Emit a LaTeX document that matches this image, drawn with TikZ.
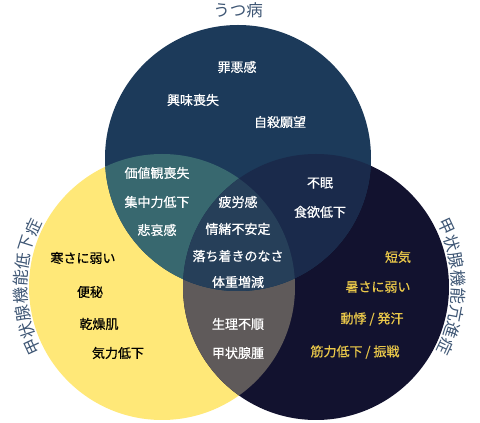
\documentclass[tikz,border=0pt]{standalone}
\usepackage{fontspec}
\setmainfont{Noto Sans CJK JP}
\newfontfamily\bodyfont{Noto Sans CJK JP}[FakeBold=0.6]
\usetikzlibrary{calc}
\definecolor{topc}{HTML}{1C3A5A}
\definecolor{yelc}{HTML}{FFE878}
\definecolor{navc}{HTML}{12122F}
\definecolor{tealc}{HTML}{38686F}
\definecolor{trc}{HTML}{1A2A4B}
\definecolor{grayc}{HTML}{5F5A5A}
\definecolor{tric}{HTML}{263F59}
\definecolor{labc}{HTML}{3E5674}
\definecolor{goldc}{HTML}{EAC84A}
\begin{document}
\begin{tikzpicture}[x=1pt,y=1pt,
  wt/.style={font=\bodyfont\fontsize{13}{13}\selectfont, text=white, inner sep=0pt},
  bt/.style={font=\bodyfont\fontsize{13}{13}\selectfont, text=black, inner sep=0pt},
  gt/.style={font=\bodyfont\fontsize{13}{13}\selectfont, text=goldc, inner sep=0pt},
  ttl/.style={font=\fontsize{16.5}{16.5}\selectfont, text=labc, inner sep=0pt}]
\useasboundingbox (0,0) rectangle (480,423);
\coordinate (T) at (238,265);
\coordinate (L) at (162,136);
\coordinate (R) at (316,136);
\def\rr{133pt}
% base circles
\fill[yelc] (L) circle (\rr);
\fill[navc] (R) circle (\rr);
\begin{scope}
  \clip (L) circle (\rr);
  \fill[grayc] (R) circle (\rr);
\end{scope}
\fill[topc] (T) circle (\rr);
\begin{scope}
  \clip (T) circle (\rr);
  \fill[tealc] (L) circle (\rr);
  \fill[trc] (R) circle (\rr);
  \clip (L) circle (\rr);
  \fill[tric] (R) circle (\rr);
\end{scope}
% titles
\node[ttl] (t1) at (238,413) {うつ病};
\foreach \ch [count=\i] in {甲,状,腺,機,能,低,下,症} {
  \pgfmathsetmacro{\ang}{180+7.1*(4.5-\i)}
  \node[ttl, rotate=\ang-90] (l\i) at ($(L)+(\ang:142pt)$) {\ch};
}
\foreach \ch [count=\i] in {甲,状,腺,機,能,亢,進,症} {
  \pgfmathsetmacro{\ang}{7.1*(4.5-\i)}
  \node[ttl, rotate=\ang-90] (r\i) at ($(R)+(\ang:143pt)$) {\ch};
}
% top only
\node[wt] (a1) at (237,356) {罪悪感};
\node[wt] (a2) at (193,323) {興味喪失};
\node[wt] (a3) at (280,301) {自殺願望};
% top & left
\node[wt] (b1) at (157,250) {価値観喪失};
\node[wt] (b2) at (157,221) {集中力低下};
\node[wt] (b3) at (157,193) {悲哀感};
% center
\node[wt] (c1) at (238,221) {疲労感};
\node[wt] (c2) at (238,194) {情緒不安定};
\node[wt] (c3) at (238,167) {落ち着きのなさ};
\node[wt] (c4) at (238,141) {体重増減};
% top & right
\node[wt] (d1) at (320,240) {不眠};
\node[wt] (d2) at (320,211) {食欲低下};
% left & right
\node[wt] (e1) at (238,99) {生理不順};
\node[wt] (e2) at (238,70) {甲状腺腫};
% left only
\node[bt] (f1) at (83,165) {寒さに弱い};
\node[bt] (f2) at (90,131) {便秘};
\node[bt] (f3) at (99,99) {乾燥肌};
\node[bt] (f4) at (118,70) {気力低下};
% right only
\node[gt] (g1) at (398,166) {短気};
\node[gt] (g2) at (378,136) {暑さに弱い};
\node[gt] (g3) at (372,104) {動悸 / 発汗};
\node[gt] (g4) at (355,71) {筋力低下 / 振戦};
\end{tikzpicture}
\end{document}
